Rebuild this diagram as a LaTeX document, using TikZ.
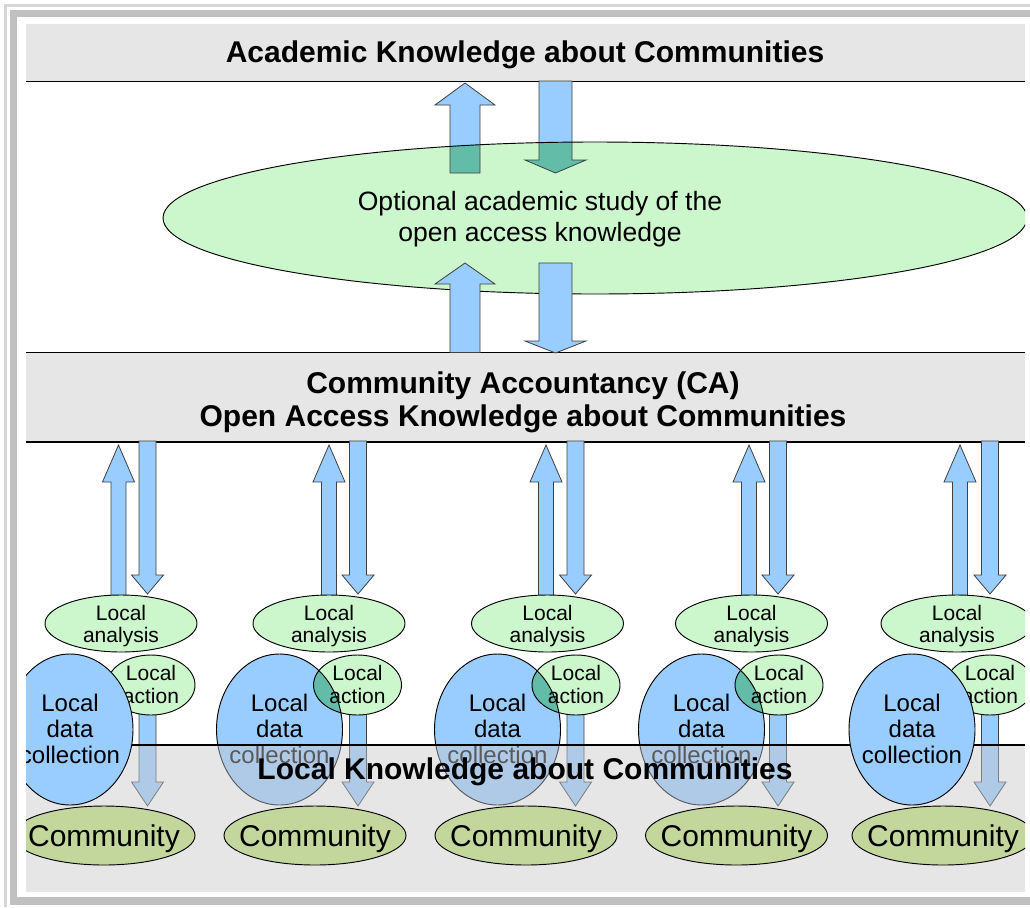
\documentclass[tikz,border=0pt]{standalone}
\usepackage{fontspec}
\setmainfont{Liberation Sans}
\definecolor{bandgray}{HTML}{E6E6E6}
\definecolor{bandthree}{HTML}{C8C8C8}
\definecolor{lgreen}{HTML}{CCF7CC}
\definecolor{lblue}{HTML}{99CCFF}
\definecolor{tealmix}{HTML}{62BCA8}
\definecolor{olivegreen}{HTML}{C3D69B}
\definecolor{framedark}{HTML}{C0C0C0}
\definecolor{framelight}{HTML}{D6D6D6}
% up block arrow: [style]{cx}{tip}{headbase}{bottom}{half shaft}{half head}
\newcommand{\upblk}[7][blk]{%
  \path[#1] ({#2-#6},#5) -- ({#2-#6},#4) -- ({#2-#7},#4) -- (#2,#3) -- ({#2+#7},#4) -- ({#2+#6},#4) -- ({#2+#6},#5) -- cycle;}
% down block arrow: [style]{cx}{top}{headbase}{tip}{half shaft}{half head}
\newcommand{\dnblk}[7][blk]{%
  \path[#1] ({#2-#6},#3) -- ({#2-#6},#4) -- ({#2-#7},#4) -- (#2,#5) -- ({#2+#7},#4) -- ({#2+#6},#4) -- ({#2+#6},#3) -- cycle;}
\begin{document}
\begin{tikzpicture}[x=0.75pt,y=-0.75pt,
  bandline/.style={draw=black, line width=0.9pt},
  blk/.style={fill=lblue, draw=black!75, line width=0.6pt},
  ovl/.style={fill=tealmix, draw=black!75, line width=0.6pt},
  ell/.style={fill=lgreen, draw=black, line width=0.7pt},
  outl/.style={draw=black, line width=0.7pt},
  circ/.style={fill=lblue, draw=black, line width=0.7pt},
  comm/.style={fill=olivegreen, draw=black, line width=0.7pt},
  titletext/.style={font=\bfseries\fontsize{22.5}{24}\selectfont, anchor=base, inner sep=0pt},
  studytext/.style={font=\fontsize{19.9}{22}\selectfont, anchor=base, inner sep=0pt},
  smalltext/.style={font=\fontsize{15.75}{17}\selectfont, anchor=base, inner sep=0pt},
  datatext/.style={font=\fontsize{18}{20}\selectfont, anchor=base, inner sep=0pt},
  commtext/.style={font=\fontsize{22.5}{24}\selectfont, anchor=base, inner sep=0pt}]
\useasboundingbox (0,0) rectangle (1030,907);
\fill[white] (0,0) rectangle (1030,907);
% frame
\fill[framelight] (4,4) rectangle (1030,7);
\fill[framelight] (4,4) rectangle (7,907);
\fill[framedark] (10,10) rectangle (1030,17);
\fill[framedark] (10,10) rectangle (17,905);
\fill[framedark] (10,897) rectangle (1030,905);

\begin{scope}
\clip (26,24) rectangle (1025,892);
% bands
\fill[bandgray] (26,24) rectangle (1025,81);
\draw[bandline] (26,81.5) -- (1025,81.5);
\fill[bandgray] (26,352) rectangle (1025,442);
\draw[bandline] (26,352.5) -- (1025,352.5);
\draw[bandline] (26,442) -- (1025,442);

% upper arrow pair
\upblk{465}{83}{105}{173}{15}{30}
\dnblk{555.5}{81}{160}{173}{16.5}{30.5}
% big ellipse with overlaps
\fill[lgreen] (595,218) ellipse [x radius=432, y radius=76];
\begin{scope}
  \clip (595,218) ellipse [x radius=432, y radius=76];
  \upblk[ovl]{465}{83}{105}{173}{15}{30}
  \dnblk[ovl]{555.5}{81}{160}{173}{16.5}{30.5}
\end{scope}
\draw[outl] (595,218) ellipse [x radius=432, y radius=76];
% lower arrow pair
\upblk{465}{263}{284}{352.5}{15}{30}
\dnblk{555.5}{263}{341}{353}{16.5}{30.5}

\node[titletext] (acad) at (525,62) {Academic Knowledge about Communities};
\node[titletext] (caone) at (523,393) {Community Accountancy (CA)};
\node[titletext] (catwo) at (523,426) {Open Access Knowledge about Communities};
\node[studytext] (studyone) at (540,210) {Optional academic study of the};
\node[studytext] (studytwo) at (540,241) {open access knowledge};

% column arrows
\foreach \u/\d in {118.5/147.5, 329/358, 546/575.5, 749/778, 960/990}{
  \upblk{\u}{445}{482}{600}{7.5}{16}
  \dnblk{\d}{441}{575}{594}{8.5}{16}
  \dnblk{\d}{705}{782}{806}{8.5}{16}
}
% local analysis
\foreach \a [count=\i] in {121,329,547.5,751.5,957}{
  \draw[ell] (\a,623.5) ellipse [x radius=76, y radius=28.5];
  \node[smalltext] (an\i a) at (\a,620) {Local};
  \node[smalltext] (an\i b) at (\a,642) {analysis};
}
% columns 2-4: data collection under local action (overlap)
\foreach \c/\a/\i in {279.5/357.5/2, 497.5/576/3, 701.5/779/4}{
  \fill[lblue] (\c,729.5) ellipse [x radius=63, y radius=75.5];
  \fill[lgreen] (\a,685) ellipse [x radius=44, y radius=30];
  \begin{scope}
    \clip (\a,685) ellipse [x radius=44, y radius=30];
    \fill[tealmix] (\c,729.5) ellipse [x radius=63, y radius=75.5];
  \end{scope}
  \draw[outl] (\c,729.5) ellipse [x radius=63, y radius=75.5];
  \draw[outl] (\a,685) ellipse [x radius=44, y radius=30];
  \node[datatext] (dc\i a) at (\c,711) {Local};
  \node[datatext] (dc\i b) at (\c,737) {data};
  \node[datatext] (dc\i c) at (\c,763) {collection};
  \node[smalltext] (ac\i a) at (\a,680) {Local};
  \node[smalltext] (ac\i b) at (\a,703) {action};
}
% columns 1 and 5: local action
\foreach \a/\i in {151/1, 990/5}{
  \draw[ell] (\a,685) ellipse [x radius=44, y radius=30];
  \node[smalltext] (ac\i a) at (\a,680) {Local};
  \node[smalltext] (ac\i b) at (\a,703) {action};
}
% local knowledge band (translucent)
\fill[bandthree, fill opacity=0.45] (26,745) rectangle (1025,892);
\draw[bandline] (26,745) -- (1025,745);
\node[titletext] (lk) at (525,779) {Local Knowledge about Communities};
% columns 1 and 5: data collection on top
\foreach \c/\i in {70/1, 912/5}{
  \draw[circ] (\c,729.5) ellipse [x radius=63, y radius=75.5];
  \node[datatext] (dc\i a) at (\c,711) {Local};
  \node[datatext] (dc\i b) at (\c,737) {data};
  \node[datatext] (dc\i c) at (\c,763) {collection};
}
% communities
\foreach \c [count=\i] in {104,315,526,736.5,943}{
  \draw[comm] (\c,835.5) ellipse [x radius=91, y radius=29.5];
  \node[commtext] (cm\i) at (\c,846) {Community};
}
\end{scope}
\end{tikzpicture}
\end{document}
